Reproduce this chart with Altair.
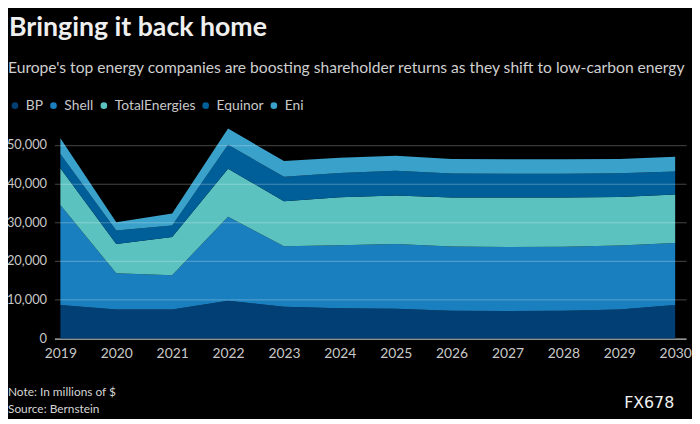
import altair as alt
import pandas as pd

years = list(range(2019, 2031))
companies = ["BP", "Shell", "TotalEnergies", "Equinor", "Eni"]
colors = ["#013f75", "#1a7fbe", "#5bc2c0", "#005f99", "#3aa1cb"]

bp = [8670, 7480, 7480, 9780, 8200, 7800, 7700, 7150, 7100, 7200, 7500, 8650]
shell = [25770, 9360, 8850, 21680, 15610, 16300, 16700, 16600, 16550, 16500, 16500, 16010]
total = [9510, 7560, 9860, 12330, 11650, 12350, 12500, 12650, 12750, 12700, 12560, 12500]
equinor = [3650, 3500, 2960, 6210, 6290, 6300, 6400, 6200, 6150, 6150, 6130, 5940]
eni = [4100, 2100, 3150, 4200, 4050, 3900, 3900, 3740, 3750, 3750, 3650, 3840]
series = [bp, shell, total, equinor, eni]

y_ticks = [0, 10000, 20000, 30000, 40000, 50000]

title_text = "Bringing it back home"
subtitle_text = "Europe's top energy companies are boosting shareholder returns as they shift to low-carbon energy"
note_text = "Note: In millions of $"
source_text = "Source: Bernstein"
brand_text = "FX678"

rows = []
for k, (name, vals) in enumerate(zip(companies, series)):
    for yr, v in zip(years, vals):
        rows.append({"year": yr, "company": name, "value": v, "rank": k})
df = pd.DataFrame(rows)

FONT = "Lato"
LABEL = "#c8c8c8"
PAD_L = 47  # plot left edge at page x = 8 + PAD_L

area = alt.Chart(df).mark_area(interpolate="linear").encode(
    x=alt.X(
        "year:Q",
        scale=alt.Scale(domain=[2018.894, 2030.195], nice=False, zero=False),
        axis=alt.Axis(
            values=years, format="d", title=None, grid=False, ticks=False,
            labelFont=FONT, labelFontSize=14, labelColor=LABEL, labelPadding=8,
            domainColor="#d0d0d0", domainWidth=1, labelFlush=False,
        ),
    ),
    y=alt.Y(
        "value:Q",
        stack="zero",
        scale=alt.Scale(domain=[0, 55000], nice=False),
        axis=alt.Axis(
            values=y_ticks, format=",.0f", title=None, grid=True, ticks=False,
            domain=False, gridColor="#ffffff", gridOpacity=0.28, gridWidth=1,
            labelFont=FONT, labelFontSize=13, labelColor=LABEL, labelPadding=8,
            zindex=1,
        ),
    ),
    color=alt.Color(
        "company:N",
        scale=alt.Scale(domain=companies, range=colors),
        legend=alt.Legend(
            title=None, orient="none", direction="horizontal", columns=5,
            legendX=-PAD_L, legendY=-27, symbolType="circle", symbolSize=45,
            symbolStrokeWidth=0, labelFont=FONT, labelFontSize=14,
            labelColor=LABEL, labelOffset=4, columnPadding=3, padding=0,
        ),
    ),
    order=alt.Order("rank:Q", sort="ascending"),
)


def txt(s, x, y, size, color, weight="normal", align="left", font=FONT):
    return alt.Chart(pd.DataFrame({"t": [s]})).mark_text(
        align=align, baseline="alphabetic", font=font, fontSize=size,
        fontWeight=weight, color=color,
    ).encode(x=alt.value(x), y=alt.value(y), text="t:N")


chart = alt.layer(
    area,
    txt(title_text, -PAD_L + 1, -90.4, 27, "#efefef", weight="bold"),
    txt(subtitle_text, -PAD_L, -53.4, 15.8, "#cfcfcf"),
    txt(note_text, -PAD_L, 273.6, 12, "#d6d6d6"),
    txt(source_text, -PAD_L, 291.0, 12, "#d6d6d6"),
    txt(brand_text, 627, 286.1, 16, "#f0f0f0", align="right", font="DejaVu Sans"),
).properties(
    width=639,
    height=215.6,
    padding={"left": PAD_L, "top": 116.4, "right": 6, "bottom": 79},
    autosize=alt.AutoSizeParams(type="none"),
    background="#000000",
).configure_view(stroke=None)

chart.save("out.html", embed_options={"renderer": "svg", "actions": False})
